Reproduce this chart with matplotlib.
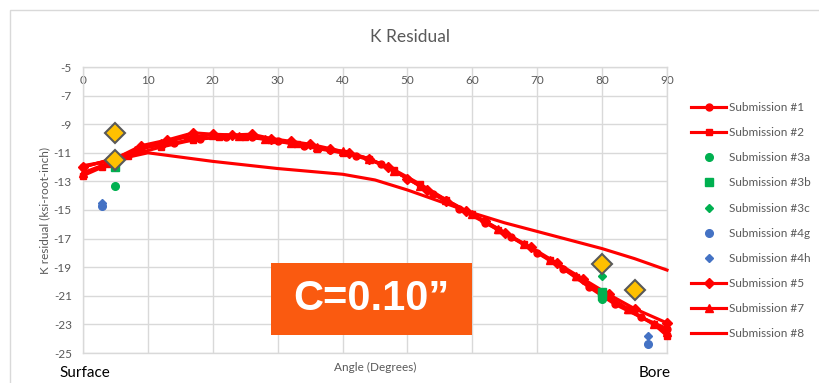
import matplotlib
matplotlib.use("Agg")
import matplotlib.pyplot as plt
from matplotlib.patches import Rectangle

plt.rcParams['axes.unicode_minus'] = False
plt.rcParams['font.family'] = ['Lato', 'DejaVu Sans']

# Submission data: angle (degrees) and K residual (ksi-root-inch)
ang1 = [0, 4, 9, 14, 18, 22, 26, 30, 34, 38, 42, 46, 50, 54, 58, 62, 66, 70, 74, 78, 82, 86, 90]
k1 = [-12.0, -11.5, -10.7, -10.3, -10.0, -9.9, -9.9, -10.2, -10.5, -10.8, -11.2, -11.8, -12.8,
      -13.9, -14.9, -15.9, -16.9, -18.0, -19.1, -20.4, -21.6, -22.5, -23.3]

ang2 = [0, 3, 7, 12, 17, 21, 25, 29, 33, 36, 40, 44, 48, 52, 56, 60, 64, 68, 72, 76, 80, 84, 88, 90]
k2 = [-12.6, -12.0, -11.2, -10.6, -10.1, -9.9, -9.9, -10.1, -10.4, -10.7, -11.0, -11.4, -12.2,
      -13.2, -14.3, -15.3, -16.4, -17.4, -18.5, -19.7, -20.9, -22.0, -23.0, -23.8]

ang3a = [5, 80]
k3a = [-13.3, -21.2]
ang3b = [5, 80, 80]
k3b = [-12.0, -20.7, -21.0]
ang3c = [5, 80]
k3c = [-11.6, -19.6]

ang4g = [3, 87]
k4g = [-14.7, -24.4]
ang4h = [3, 87]
k4h = [-14.5, -23.8]

ang5 = [0, 5, 9, 13, 17, 20, 23, 26, 29, 32, 35, 38, 41, 44, 47, 50, 53, 56, 59, 62, 65, 69, 73,
        77, 81, 85, 90]
k5 = [-12.0, -11.4, -10.5, -10.1, -9.6, -9.7, -9.75, -9.7, -10.0, -10.2, -10.4, -10.7, -11.0,
      -11.4, -12.0, -12.8, -13.6, -14.4, -15.1, -15.8, -16.6, -17.6, -18.7, -19.8, -20.9, -21.9,
      -22.9]

ang7 = [0, 4, 8, 12, 16, 20, 24, 28, 32, 36, 40, 44, 48, 52, 56, 60, 64, 68, 72, 76, 80, 84, 88, 90]
k7 = [-12.4, -11.7, -10.8, -10.3, -9.9, -9.75, -9.8, -10.0, -10.3, -10.6, -10.9, -11.4, -12.3,
      -13.3, -14.3, -15.3, -16.3, -17.4, -18.5, -19.6, -20.8, -21.9, -23.0, -23.5]

ang8 = [0, 5, 10, 20, 30, 40, 45, 50, 55, 60, 65, 70, 75, 80, 85, 90]
k8 = [-11.9, -11.5, -11.0, -11.6, -12.1, -12.5, -12.9, -13.6, -14.4, -15.2, -15.9, -16.5, -17.1,
      -17.7, -18.4, -19.2]

# Reference points (gold diamonds)
ang_ref = [5, 5, 80, 85]
k_ref = [-9.6, -11.5, -18.8, -20.6]

x_ticks = list(range(0, 91, 10))
y_ticks = list(range(-25, -4, 2))

RED = '#FF0000'
GREEN = '#00B050'
BLUE = '#4472C4'
GOLD = '#FFC000'
GRID = '#D9D9D9'
TXT = '#595959'

W, H = 819, 383
fig = plt.figure(figsize=(W / 100, H / 100), dpi=100)

# outer chart frame
fig.patches.append(Rectangle((10 / W, -0.05), 1.0, 1 - 10 / H + 0.05, transform=fig.transFigure,
                             fill=False, edgecolor=GRID, linewidth=1.0))

ax = fig.add_axes([83 / W, 1 - 353 / H, (667 - 83) / W, (353 - 67) / H])

lw = 2.25
ms = 5
ax.plot(ang1, k1, color=RED, lw=lw, marker='o', ms=ms, label='Submission #1', clip_on=False, zorder=3)
ax.plot(ang2, k2, color=RED, lw=lw, marker='s', ms=ms, label='Submission #2', clip_on=False, zorder=3)
ax.plot(ang3a, k3a, ls='none', color=GREEN, marker='o', ms=5.5, label='Submission #3a', zorder=4)
ax.plot(ang3b, k3b, ls='none', color=GREEN, marker='s', ms=5.5, label='Submission #3b', zorder=4)
ax.plot(ang3c, k3c, ls='none', color=GREEN, marker='D', ms=4.5, label='Submission #3c', zorder=4)
ax.plot(ang4g, k4g, ls='none', color=BLUE, marker='o', ms=5.5, label='Submission #4g', zorder=4)
ax.plot(ang4h, k4h, ls='none', color=BLUE, marker='D', ms=4.5, label='Submission #4h', zorder=4)
ax.plot(ang5, k5, color=RED, lw=lw, marker='D', ms=ms, label='Submission #5', clip_on=False, zorder=3)
ax.plot(ang7, k7, color=RED, lw=lw, marker='^', ms=ms + 1, label='Submission #7', clip_on=False, zorder=3)
ax.plot(ang8, k8, color=RED, lw=lw, label='Submission #8', clip_on=False, zorder=3)
ax.plot(ang_ref, k_ref, ls='none', marker='D', ms=10, markerfacecolor=GOLD,
        markeredgecolor='#595959', markeredgewidth=1.5, zorder=5, label='_nolegend_')

ax.set_xlim(0, 90)
ax.set_ylim(-25, -5)
ax.set_xticks(x_ticks)
ax.set_yticks(y_ticks)
ax.grid(True, color=GRID, linewidth=1.0)
ax.set_axisbelow(True)
for s in ax.spines.values():
    s.set_color(GRID)
    s.set_linewidth(1.0)

ax.tick_params(axis='x', top=False, bottom=False, labeltop=True, labelbottom=False,
               pad=-17, labelsize=8.5, labelcolor=TXT)
ax.tick_params(axis='y', left=False, length=0, pad=8, labelsize=8.5, labelcolor=TXT)

fig.text(45 / W, 1 - 210 / H, 'K residual (ksi-root-inch)', rotation=90, ha='center', va='center',
         fontsize=8.5, color=TXT)
fig.text(375 / W, 1 - 367 / H, 'Angle (Degrees)', ha='center', va='center', fontsize=8.5, color=TXT)
fig.text(410 / W, 1 - 37 / H, 'K Residual', ha='center', va='center', fontsize=12.5, color=TXT)
fig.text(85 / W, 1 - 373 / H, 'Surface', ha='center', va='center', fontsize=11, color='black')
fig.text(655 / W, 1 - 373 / H, 'Bore', ha='center', va='center', fontsize=11, color='black')

# highlighted case label
fig.patches.append(Rectangle((271 / W, 1 - 335 / H), (472 - 271) / W, (335 - 263) / H,
                             transform=fig.transFigure, facecolor='#FA5A10', edgecolor='none',
                             zorder=10))
fig.text(371 / W, 1 - 299 / H, 'C=0.10\u201d', ha='center', va='center', fontsize=30,
         fontweight='bold', color='white', family=['Liberation Sans', 'DejaVu Sans'], zorder=11)

leg = ax.legend(loc='upper left', bbox_to_anchor=(691 / W, 1 - 102 / H),
                bbox_transform=fig.transFigure, frameon=False, fontsize=8.5,
                handlelength=3.0, handletextpad=0.2, labelspacing=1.2, borderpad=0,
                borderaxespad=0)
for t in leg.get_texts():
    t.set_color(TXT)

fig.savefig('out.png', dpi=100)
